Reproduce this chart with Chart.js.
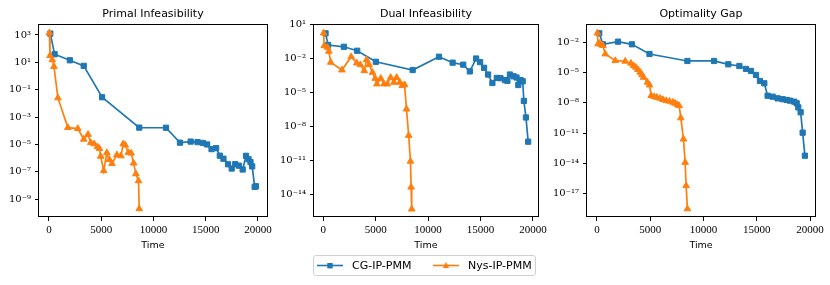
<!DOCTYPE html>
<html><head><meta charset="utf-8">
<script src="https://cdn.jsdelivr.net/npm/chart.js@4.4.1/dist/chart.umd.min.js"></script>
<style>
body{margin:0;background:#fff;}
#wrap{position:relative;width:830px;height:285px;overflow:hidden;background:#fff;}
canvas{position:absolute;top:0;}
#legend{position:absolute;left:313px;top:255px;width:221px;height:19px;border:1px solid #d0d0d0;border-radius:3px;font-family:'DejaVu Sans';font-size:11px;color:#000;background:#fff;}
#legend .item{position:absolute;top:0;height:19px;line-height:19px;white-space:nowrap;}
#legend svg{position:absolute;top:3px;}
</style></head>
<body><div id="wrap">
<canvas id="c1" width="275" height="285" style="left:0px"></canvas>
<canvas id="c2" width="275" height="285" style="left:275px"></canvas>
<canvas id="c3" width="280" height="285" style="left:550px"></canvas>
<div id="legend">
<svg style="left:3px" width="26" height="13"><line x1="0" y1="6.5" x2="26" y2="6.5" stroke="#1f77b4" stroke-width="1.6"/><rect x="10.3" y="4" width="5.4" height="5.4" fill="#1f77b4"/></svg>
<span class="item" style="left:38px">CG-IP-PMM</span>
<svg style="left:119px" width="26" height="13"><line x1="0" y1="6.5" x2="26" y2="6.5" stroke="#ff7f0e" stroke-width="1.6"/><polygon points="13,3 16.2,9 9.8,9" fill="#ff7f0e"/></svg>
<span class="item" style="left:154px">Nys-IP-PMM</span>
</div>
</div>
<script>
// ---------- data ----------
const seriesNames = ['CG-IP-PMM', 'Nys-IP-PMM'];
const panelTitles = ['Primal Infeasibility', 'Dual Infeasibility', 'Optimality Gap'];
const xTicks = [0, 5000, 10000, 15000, 20000];
const primalYTicks = [1e3, 1e1, 1e-1, 1e-3, 1e-5, 1e-7, 1e-9];
const dualYTicks = [1e1, 1e-2, 1e-5, 1e-8, 1e-11, 1e-14];
const gapYTicks = [1e-2, 1e-5, 1e-8, 1e-11, 1e-14, 1e-17];

// Primal infeasibility
const cgPrimalTime = [130, 540, 2000, 3330, 5085, 8640, 11200, 12540, 13560, 14220, 14730, 15140, 15560, 16000, 16350, 16700, 17140, 17490, 17830, 18170, 18540, 18860, 19100, 19290, 19450, 19690, 19810];
const cgPrimal = [1.26e3, 38.9, 14.1, 5.5, 0.0282, 1.7e-4, 1.66e-4, 1.35e-5, 1.62e-5, 1.48e-5, 1.29e-5, 1.0e-5, 4.57e-6, 5.37e-6, 1.51e-6, 9.1e-7, 3.55e-7, 1.74e-7, 3.63e-7, 2.82e-7, 1.48e-7, 1.48e-6, 8.3e-7, 5.1e-7, 2.5e-7, 7.9e-9, 8.9e-9];
const nysPrimalTime = [40, 100, 320, 480, 860, 1810, 2760, 3330, 3740, 4000, 4320, 4640, 4830, 4950, 5240, 5540, 5780, 6030, 6500, 6890, 7110, 7300, 7600, 7870, 8100, 8320, 8570, 8640];
const nysPrimal = [1.41e3, 30.9, 15.1, 4.9, 0.0251, 1.7e-4, 1.45e-4, 2.4e-5, 5.4e-5, 1.35e-5, 1.1e-5, 6.8e-6, 5.0e-6, 1.35e-6, 1.2e-7, 2.5e-6, 7.9e-7, 4.0e-7, 1.74e-6, 1.45e-6, 1.1e-5, 8.9e-6, 2.6e-6, 2.3e-6, 4.3e-7, 7.1e-8, 2.2e-8, 2.0e-10];

// Dual infeasibility
const cgDualTime = [225, 470, 1975, 3240, 5020, 8530, 11040, 12340, 13350, 13980, 14580, 14960, 15340, 15720, 16130, 16550, 16900, 17330, 17560, 17800, 18150, 18430, 18600, 18820, 19020, 19130, 19330, 19540];
const cgDual = [1.78, 0.166, 0.115, 0.0513, 5.4e-3, 1.0e-3, 0.0151, 4.5e-3, 3.0e-3, 7.6e-4, 0.0105, 5.0e-3, 1.58e-3, 4.0e-4, 7.1e-5, 2.0e-4, 1.9e-4, 1.29e-4, 1.12e-4, 4.0e-4, 2.8e-4, 2.2e-4, 4.7e-5, 1.29e-4, 1.0e-4, 1.86e-6, 6.3e-8, 4.5e-10];
const nysDualTime = [40, 100, 410, 540, 720, 1790, 2670, 3200, 3550, 3920, 4140, 4390, 4700, 4960, 5120, 5490, 5800, 6110, 6430, 6750, 7000, 7310, 7530, 7760, 7940, 8150, 8320, 8380, 8440];
const nysDual = [1.9, 0.141, 0.102, 0.0457, 4.8e-3, 1.0e-3, 0.0151, 4.2e-3, 2.95e-3, 8.7e-4, 8.1e-3, 2.95e-3, 6.2e-4, 1.82e-4, 5.8e-5, 1.82e-4, 5.8e-5, 5.8e-5, 2.2e-4, 8.1e-5, 2.2e-4, 8.1e-5, 4.1e-5, 5.0e-5, 3.5e-7, 1.6e-9, 8.3e-12, 4.2e-14, 4.8e-16];

// Optimality gap
const cgGapTime = [215, 560, 1970, 3280, 4930, 8490, 10990, 12330, 13370, 13990, 14460, 14930, 15300, 15710, 16020, 16490, 16960, 17430, 17810, 18120, 18520, 18750, 18900, 19120, 19310, 19520];
const cgGap = [0.078, 6.3e-3, 0.0115, 6.3e-3, 6.9e-4, 1.41e-4, 1.41e-4, 6.6e-5, 4.5e-5, 2.3e-5, 1.45e-5, 5.8e-6, 1.48e-6, 8.7e-7, 5.1e-8, 4.1e-8, 2.8e-8, 2.3e-8, 1.95e-8, 1.66e-8, 1.32e-8, 9.1e-9, 3.6e-9, 1.17e-9, 1.12e-11, 5.9e-14];
const nysGapTime = [40, 100, 250, 400, 560, 780, 1720, 2650, 3190, 3430, 3650, 3840, 4060, 4220, 4370, 4740, 4930, 5090, 5370, 5620, 5930, 6190, 6500, 6810, 7120, 7340, 7560, 7720, 7870, 8120, 8280, 8370, 8490];
const nysGap = [0.083, 6.8e-3, 7.9e-3, 5.8e-3, 4.6e-3, 6.9e-4, 1.51e-4, 1.32e-4, 8.3e-5, 4.8e-5, 3.3e-5, 1.95e-5, 1.07e-5, 6.2e-6, 3.4e-6, 1.1e-6, 5.9e-7, 5.1e-8, 4.1e-8, 3.5e-8, 2.8e-8, 2.1e-8, 1.66e-8, 1.45e-8, 1.15e-8, 9.1e-9, 6.6e-9, 5.2e-9, 3.2e-10, 2.6e-12, 1.26e-14, 6.3e-17, 3.2e-19];

// ---------- rendering ----------
const BLUE = '#1f77b4', ORANGE = '#ff7f0e';
Chart.defaults.color = '#000';
Chart.defaults.devicePixelRatio = 1;

const SUP = {'-':'\u207B','0':'\u2070','1':'\u00B9','2':'\u00B2','3':'\u00B3','4':'\u2074','5':'\u2075','6':'\u2076','7':'\u2077','8':'\u2078','9':'\u2079'};
function powLabel(v) {
  const e = Math.round(Math.log10(v));
  return '10' + String(e).split('').map(c => SUP[c]).join('');
}
function pairs(t, v) { return t.map((x, i) => ({x: x, y: v[i]})); }

const framePlugin = {
  id: 'frame',
  afterDatasetsDraw(chart) {
    const {ctx, chartArea: a} = chart;
    ctx.save();
    ctx.strokeStyle = '#000';
    ctx.lineWidth = 1;
    ctx.strokeRect(Math.round(a.left) - 0.5, Math.round(a.top) + 0.5, Math.round(a.right - a.left) + 1, Math.round(a.bottom - a.top) - 1);
    ctx.restore();
  }
};

function makeChart(id, cfg) {
  const ds = [
    {label: seriesNames[0], data: pairs(cfg.cgT, cfg.cg), borderColor: BLUE, backgroundColor: BLUE,
     pointStyle: 'rect', pointRadius: 3.7, pointBorderWidth: 1, pointBackgroundColor: BLUE, pointBorderColor: BLUE,
     borderWidth: 1.7, tension: 0, order: 1},
    {label: seriesNames[1], data: pairs(cfg.nyT, cfg.ny), borderColor: ORANGE, backgroundColor: ORANGE,
     pointStyle: 'triangle', pointRadius: 3.8, pointBorderWidth: 1, pointBackgroundColor: ORANGE, pointBorderColor: ORANGE,
     borderWidth: 1.7, tension: 0, order: 0}
  ];
  return new Chart(document.getElementById(id), {
    type: 'line',
    data: {datasets: ds},
    plugins: [framePlugin],
    options: {
      responsive: false, animation: false, devicePixelRatio: 1,
      layout: {padding: {left: 0, right: cfg.padR, top: 0, bottom: 32}},
      plugins: {
        legend: {display: false}, tooltip: {enabled: false},
        title: {display: true, fullSize: false, text: cfg.title, color: '#000',
                font: {family: 'DejaVu Sans', size: 11, weight: 'normal'},
                padding: {top: 7.5, bottom: 3.3}}
      },
      scales: {
        x: {
          type: 'linear', min: cfg.xmin, max: cfg.xmax,
          afterBuildTicks: s => { s.ticks = xTicks.map(v => ({value: v})); },
          afterFit: s => { s.height = 36; },
          ticks: {autoSkip: false, maxRotation: 0, padding: 3, color: '#000',
                  font: {family: 'Liberation Serif', size: 11},
                  callback: v => String(v)},
          grid: {drawOnChartArea: false, drawTicks: true, tickLength: 4, tickColor: '#000', tickWidth: 1},
          border: {display: false},
          title: {display: true, text: 'Time', color: '#000',
                  font: {family: 'DejaVu Sans', size: 9.5}, padding: {top: 0, bottom: 2}}
        },
        y: {
          type: 'logarithmic', min: cfg.ymin, max: cfg.ymax,
          afterBuildTicks: s => { s.ticks = cfg.yTicks.map(v => ({value: v})); },
          afterFit: s => { s.width = cfg.yw; },
          ticks: {autoSkip: false, padding: 4, color: '#000',
                  font: {family: 'DejaVu Serif', size: 10},
                  callback: v => powLabel(v)},
          grid: {drawOnChartArea: false, drawTicks: true, tickLength: 4, tickColor: '#000', tickWidth: 1},
          border: {display: false}
        }
      }
    }
  });
}

makeChart('c1', {title: panelTitles[0], cgT: cgPrimalTime, cg: cgPrimal, nyT: nysPrimalTime, ny: nysPrimal,
  yTicks: primalYTicks, ymin: Math.pow(10, -10.3), ymax: Math.pow(10, 3.8), xmin: -952, xmax: 20857, yw: 39, padR: 7});
makeChart('c2', {title: panelTitles[1], cgT: cgDualTime, cg: cgDual, nyT: nysDualTime, ny: nysDual,
  yTicks: dualYTicks, ymin: Math.pow(10, -16.02), ymax: Math.pow(10, 1.08), xmin: -875, xmax: 20470, yw: 39, padR: 9});
makeChart('c3', {title: panelTitles[2], cgT: cgGapTime, cg: cgGap, nyT: nysGapTime, ny: nysGap,
  yTicks: gapYTicks, ymin: Math.pow(10, -19.3), ymax: Math.pow(10, -0.19), xmin: -937, xmax: 20469, yw: 37, padR: 15});
</script>
</body></html>
